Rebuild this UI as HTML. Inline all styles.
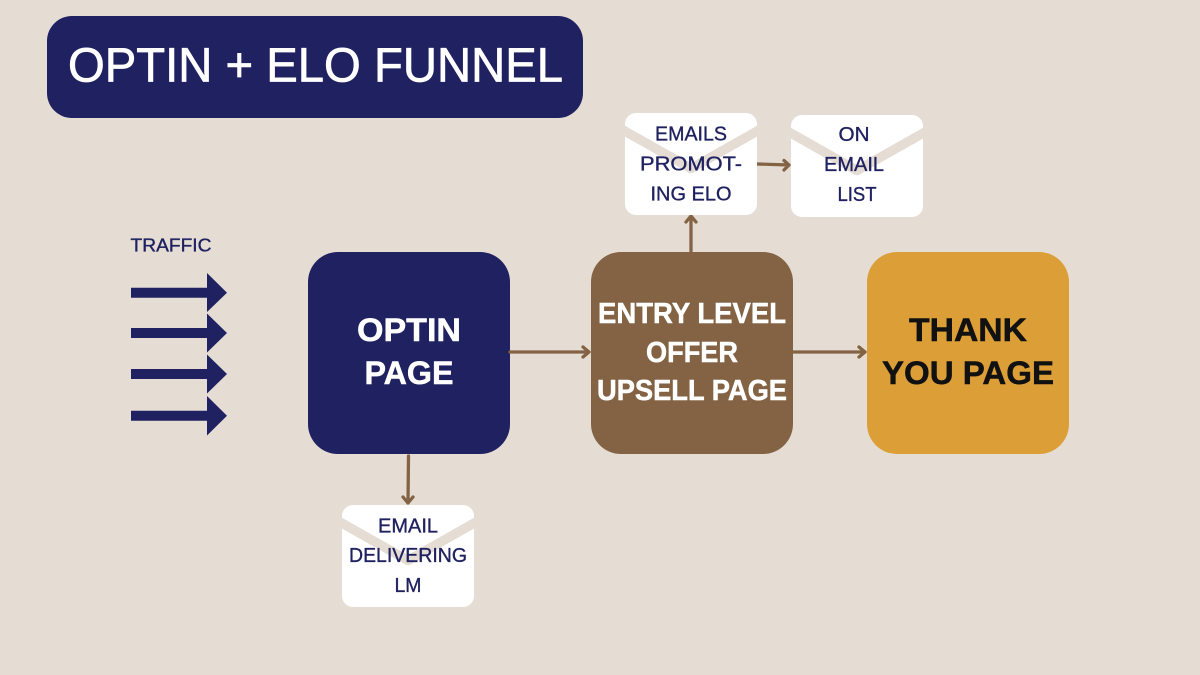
<!DOCTYPE html>
<html>
<head>
<meta charset="utf-8">
<style>
html,body{margin:0;padding:0;background:#e5ddd4}
svg{display:block}
text{font-family:"Liberation Sans",sans-serif;text-anchor:middle}
.e{fill:#1f2160;font-size:20.5px;stroke:#1f2160;stroke-width:.35px}
.b{font-weight:bold;font-size:32px}
</style>
</head>
<body>
<svg width="1200" height="675" viewBox="0 0 1200 675" xmlns="http://www.w3.org/2000/svg">
<rect width="1200" height="675" fill="#e5ddd4"/>

<rect x="47" y="16" width="536" height="102" rx="25" fill="#1f2160"/>
<text x="315.5" y="81.500" fill="#fff" stroke="#fff" stroke-width=".7" font-size="48" textLength="495" lengthAdjust="spacingAndGlyphs">OPTIN + ELO FUNNEL</text>

<text x="171" y="251.500" fill="#1f2160" stroke="#1f2160" stroke-width=".35" font-size="18.500" textLength="81" lengthAdjust="spacingAndGlyphs">TRAFFIC</text>
<g fill="#1f2160">
<polygon points="131,287.7 207,287.7 207,273 227,292.7 207,312 207,297.7 131,297.7"/>
<polygon points="131,328 207,328 207,313.5 227,333 207,352.5 207,338 131,338"/>
<polygon points="131,369 207,369 207,354.5 227,374 207,393.5 207,379 131,379"/>
<polygon points="131,410.7 207,410.7 207,396 227,415.7 207,435.5 207,420.7 131,420.7"/>
</g>

<rect x="308" y="252" width="202" height="202" rx="30" fill="#1f2160"/>
<rect x="591" y="252" width="202" height="202" rx="30" fill="#836343"/>
<rect x="867" y="252" width="202" height="202" rx="30" fill="#dc9e37"/>

<g fill="#fff" stroke="#fff" stroke-width=".5">
<text x="409" y="341" class="b" textLength="104" lengthAdjust="spacingAndGlyphs">OPTIN</text>
<text x="409" y="384" class="b" textLength="89" lengthAdjust="spacingAndGlyphs">PAGE</text>
</g>
<g fill="#fff" stroke="#fff" stroke-width=".5">
<text x="692" y="323" font-size="29" font-weight="bold" textLength="188" lengthAdjust="spacingAndGlyphs">ENTRY LEVEL</text>
<text x="692" y="362" font-size="29" font-weight="bold" textLength="92" lengthAdjust="spacingAndGlyphs">OFFER</text>
<text x="692" y="400" font-size="29" font-weight="bold" textLength="190" lengthAdjust="spacingAndGlyphs">UPSELL PAGE</text>
</g>
<g fill="#111" stroke="#111" stroke-width=".5">
<text x="968" y="341" class="b" textLength="118" lengthAdjust="spacingAndGlyphs">THANK</text>
<text x="968" y="384" class="b" textLength="172" lengthAdjust="spacingAndGlyphs">YOU PAGE</text>
</g>

<g stroke="#836343" stroke-width="3.300" fill="none" stroke-linecap="round" stroke-linejoin="round">
<path d="M510,352H589M583,347l6,5l-6,5"/>
<path d="M793,352H865M859,347l6,5l-6,5"/>
<path d="M691,251V216M686,222l5,-6l5,6"/>
<path d="M757,164L789,165M784,160.500l5,4.500l-5,5"/>
<path d="M408.500,456L408,503M403,497l5,6l5,-6"/>
</g>

<g>
<rect x="625" y="113" width="132" height="102" rx="11" fill="#fff"/>
<path d="M625,113h132v18l-66,37.500l-66,-37.500z" fill="none"/>
<path d="M622,129.500L691,168.500L760,129.500" fill="none" stroke="#e5ddd4" stroke-width="9.500" stroke-linejoin="round"/>
<text class="e" x="691" y="140.500" textLength="72" lengthAdjust="spacingAndGlyphs">EMAILS</text>
<text class="e" x="691" y="170.500" textLength="102" lengthAdjust="spacingAndGlyphs">PROMOT-</text>
<text class="e" x="691" y="200.500" textLength="81" lengthAdjust="spacingAndGlyphs">ING ELO</text>
</g>
<g>
<rect x="791" y="115" width="132" height="102" rx="11" fill="#fff"/>
<path d="M788,131.500L857,170.500L926,131.500" fill="none" stroke="#e5ddd4" stroke-width="9.500" stroke-linejoin="round"/>
<text class="e" x="854" y="141" textLength="31" lengthAdjust="spacingAndGlyphs">ON</text>
<text class="e" x="854" y="171" textLength="60" lengthAdjust="spacingAndGlyphs">EMAIL</text>
<text class="e" x="857" y="201" textLength="39" lengthAdjust="spacingAndGlyphs">LIST</text>
</g>
<g>
<rect x="342" y="505" width="132" height="102" rx="11" fill="#fff"/>
<path d="M339,521.500L408,560.500L477,521.500" fill="none" stroke="#e5ddd4" stroke-width="9.500" stroke-linejoin="round"/>
<text class="e" x="408" y="532.500" textLength="60" lengthAdjust="spacingAndGlyphs">EMAIL</text>
<text class="e" x="408" y="562" textLength="118" lengthAdjust="spacingAndGlyphs">DELIVERING</text>
<text class="e" x="408" y="592" textLength="27" lengthAdjust="spacingAndGlyphs">LM</text>
</g>
</svg>
</body>
</html>
